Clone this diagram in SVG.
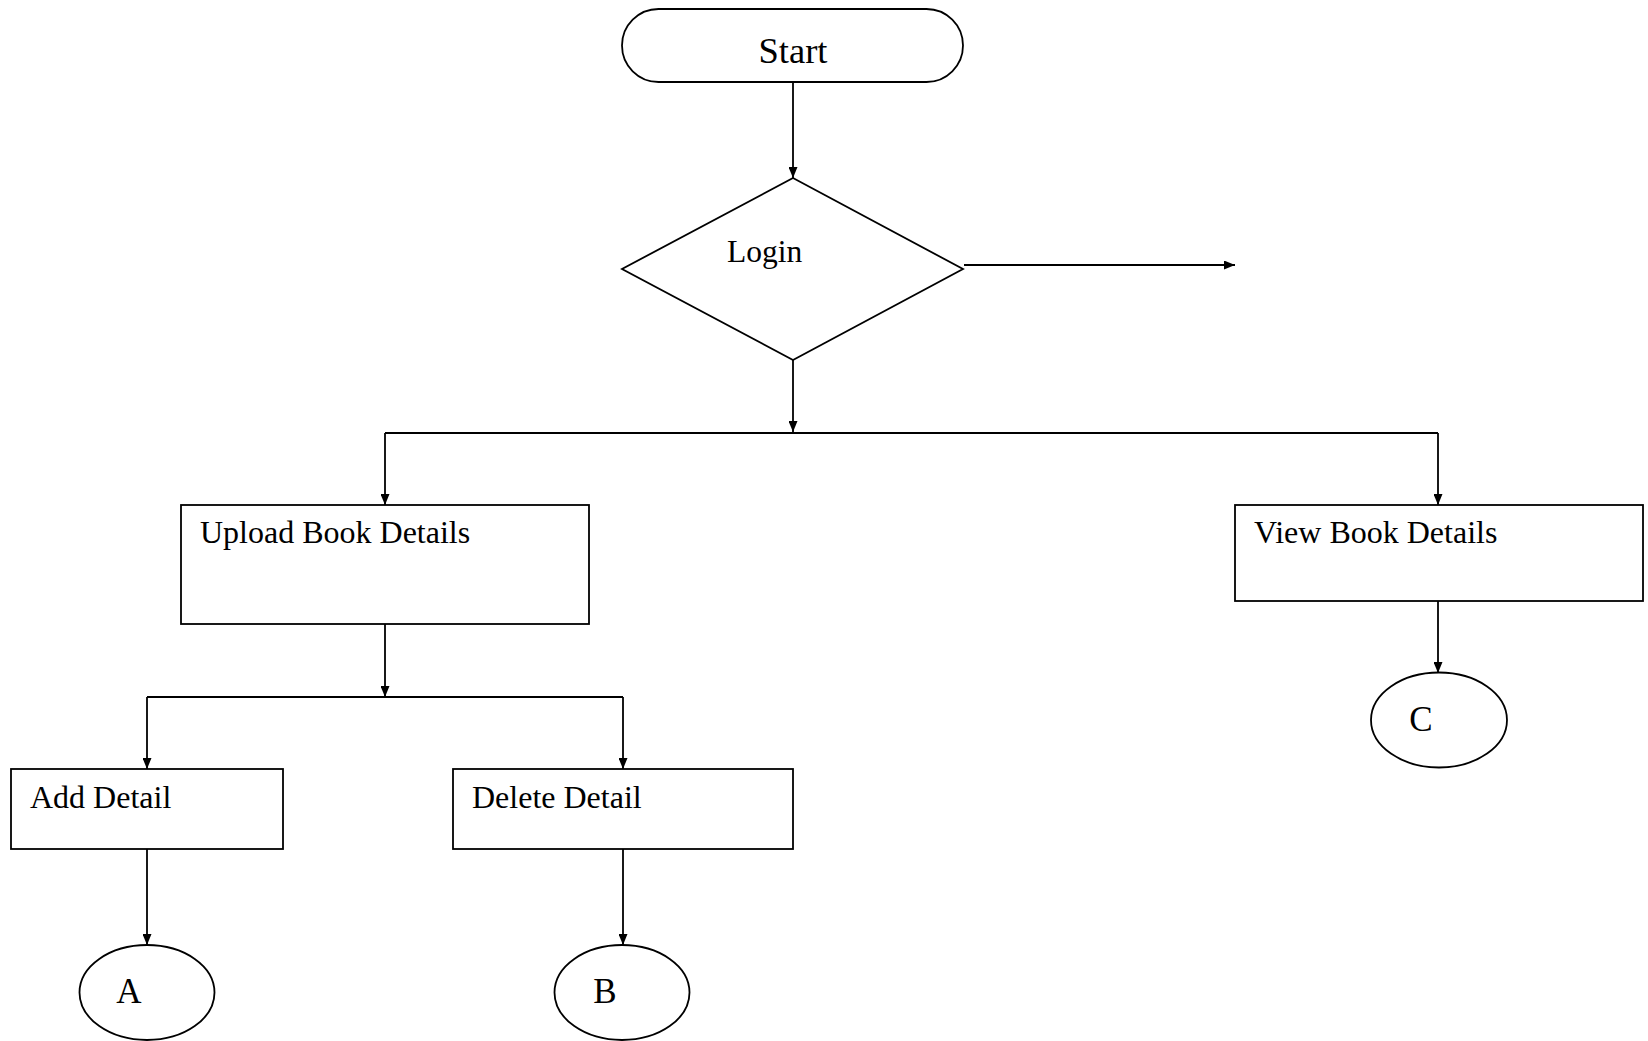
<svg xmlns="http://www.w3.org/2000/svg" width="1648" height="1041" viewBox="0 0 1648 1041">
<style>
.s{fill:#fff;stroke:#000;stroke-width:1.8}
.t{font-family:"Liberation Serif","Times New Roman",serif;fill:#000}
.c{fill:none;stroke:#000;stroke-width:1.8}
</style>
<defs>
<marker id="ah" markerWidth="11" markerHeight="9" refX="11" refY="4.5" orient="auto" markerUnits="userSpaceOnUse">
<path d="M0,0 L11,4.5 L0,9 Z" fill="#000"/>
</marker>
</defs>
<rect width="1648" height="1041" fill="#fff"/>
<g id="connectors">
<line class="c" x1="793" y1="82" x2="793" y2="178" marker-end="url(#ah)"/>
<line class="c" x1="964" y1="265" x2="1235" y2="265" marker-end="url(#ah)"/>
<line class="c" x1="793" y1="360" x2="793" y2="432" marker-end="url(#ah)"/>
<polyline class="c" points="385,433 1438,433"/>
<line class="c" x1="385" y1="433" x2="385" y2="505" marker-end="url(#ah)"/>
<line class="c" x1="1438" y1="433" x2="1438" y2="505" marker-end="url(#ah)"/>
<line class="c" x1="385" y1="624" x2="385" y2="697" marker-end="url(#ah)"/>
<polyline class="c" points="147,697 623,697"/>
<line class="c" x1="147" y1="697" x2="147" y2="769" marker-end="url(#ah)"/>
<line class="c" x1="623" y1="697" x2="623" y2="769" marker-end="url(#ah)"/>
<line class="c" x1="147" y1="849" x2="147" y2="945" marker-end="url(#ah)"/>
<line class="c" x1="623" y1="849" x2="623" y2="945" marker-end="url(#ah)"/>
<line class="c" x1="1438" y1="601" x2="1438" y2="673" marker-end="url(#ah)"/>
</g>
<g id="start">
<rect class="s" x="622" y="9" width="341" height="73" rx="36.5" ry="36.5"/>
<text class="t" x="793" y="63" font-size="36.5" text-anchor="middle">Start</text>
</g>
<g id="login">
<polygon class="s" points="793,178 963,269 793,360 622,269"/>
<text class="t" x="727" y="262" font-size="31.5">Login</text>
</g>
<g id="upload">
<rect class="s" x="181" y="505" width="408" height="119"/>
<text class="t" x="200" y="543" font-size="32">Upload Book Details</text>
</g>
<g id="view">
<rect class="s" x="1235" y="505" width="408" height="96"/>
<text class="t" x="1254" y="543" font-size="32">View Book Details</text>
</g>
<g id="add">
<rect class="s" x="11" y="769" width="272" height="80"/>
<text class="t" x="30" y="808" font-size="32">Add Detail</text>
</g>
<g id="delete">
<rect class="s" x="453" y="769" width="340" height="80"/>
<text class="t" x="472" y="808" font-size="32">Delete Detail</text>
</g>
<g id="a">
<ellipse class="s" cx="147" cy="992.5" rx="67.5" ry="47.5"/>
<text class="t" x="129" y="1003" font-size="35" text-anchor="middle">A</text>
</g>
<g id="b">
<ellipse class="s" cx="622" cy="992.5" rx="67.5" ry="47.5"/>
<text class="t" x="605" y="1003" font-size="35" text-anchor="middle">B</text>
</g>
<g id="c">
<ellipse class="s" cx="1439" cy="720" rx="68" ry="47.5"/>
<text class="t" x="1421" y="731" font-size="35" text-anchor="middle">C</text>
</g>
</svg>
